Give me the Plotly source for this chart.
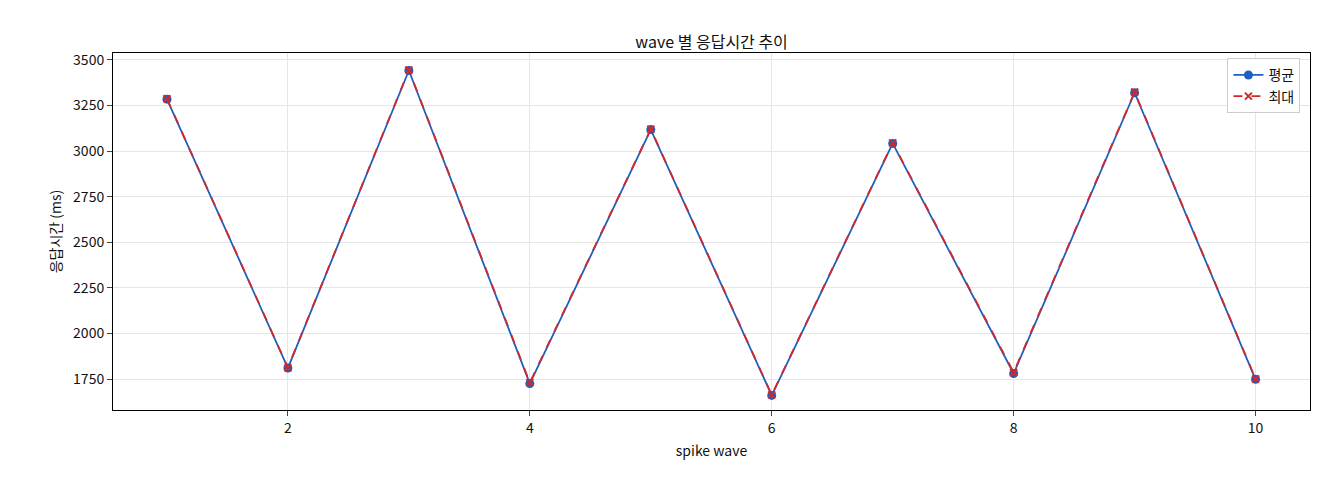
import plotly.graph_objects as go

waves = [1, 2, 3, 4, 5, 6, 7, 8, 9, 10]
avg_ms = [3285, 1810, 3442, 1725, 3118, 1660, 3042, 1780, 3320, 1748]
max_ms = [3287, 1812, 3445, 1730, 3120, 1663, 3045, 1786, 3324, 1750]

font = "Noto Sans CJK KR, DejaVu Sans, sans-serif"
fig = go.Figure()
fig.add_trace(go.Scatter(x=waves, y=avg_ms, name="평균", mode="lines+markers",
                         line=dict(color="#1f5fbf", width=1.8),
                         marker=dict(symbol="circle", size=9, color="#1f5fbf")))
fig.add_trace(go.Scatter(x=waves, y=max_ms, name="최대", mode="lines+markers",
                         line=dict(color="#d62728", width=1.8, dash="dash"),
                         marker=dict(symbol="x-thin", size=7, color="#d62728",
                                     line=dict(width=2, color="#d62728"))))
fig.update_layout(
    width=1320, height=480, paper_bgcolor="white", plot_bgcolor="white",
    margin=dict(l=105, r=18, t=45, b=78, autoexpand=False),
    font=dict(family=font, size=14, color="#111"),
    title=dict(text="wave 별 응답시간 추이", x=0.533, xanchor="center", y=0.94, font=dict(size=16)),
    legend=dict(x=0.992, y=0.985, xanchor="right", yanchor="top", bordercolor="#ccc",
                borderwidth=1, bgcolor="rgba(255,255,255,0.9)"),
)
axis = dict(showline=True, linecolor="black", mirror=True, ticks="outside",
            gridcolor="#e6e6e6", zeroline=False, automargin=False)
fig.update_xaxes(range=[0.554, 10.45], tickvals=[2, 4, 6, 8, 10],
                 title=dict(text="spike wave", font=dict(size=14), standoff=10), **axis)
fig.update_yaxes(range=[1580, 3538], dtick=250,
                 title=dict(text="응답시간 (ms)", font=dict(size=14), standoff=8), **axis)
fig.write_html("out.html")
